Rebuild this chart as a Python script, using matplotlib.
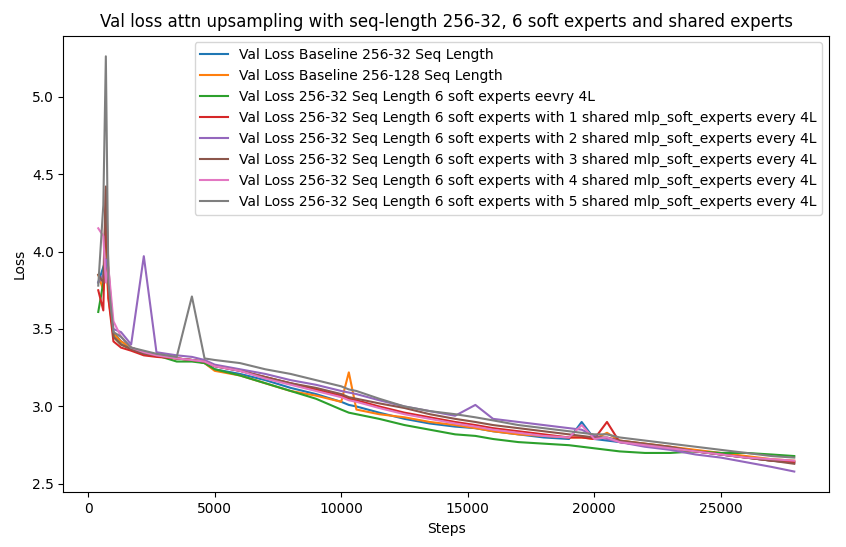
import matplotlib
matplotlib.use("Agg")
import matplotlib.pyplot as plt

steps = [400,600,700,800,1000,1300,1700,2200,2700,3500,4100,4600,5000,6000,7000,8000,9000,10000,10300,10600,11500,12500,13500,14500,15300,16000,17000,18000,19000,19500,20000,20500,21000,22000,23000,24000,25000,26000,27000,27900]

blue = [3.80,3.90,3.95,3.75,3.48,3.42,3.38,3.35,3.33,3.31,3.30,3.28,3.24,3.21,3.17,3.12,3.08,3.03,3.01,3.00,2.96,2.92,2.89,2.87,2.86,2.84,2.82,2.80,2.79,2.90,2.79,2.78,2.77,2.75,2.73,2.71,2.69,2.67,2.65,2.64]
orange = [3.85,3.75,3.95,3.70,3.47,3.42,3.38,3.35,3.33,3.31,3.30,3.28,3.23,3.20,3.15,3.10,3.07,3.03,3.22,2.98,2.95,2.93,2.90,2.88,2.86,2.84,2.82,2.81,2.80,2.80,2.79,2.83,2.78,2.76,2.74,2.72,2.70,2.68,2.66,2.65]
green = [3.61,3.80,4.20,3.80,3.45,3.40,3.37,3.34,3.33,3.29,3.29,3.28,3.24,3.20,3.15,3.10,3.05,2.98,2.96,2.95,2.92,2.88,2.85,2.82,2.81,2.79,2.77,2.76,2.75,2.74,2.73,2.72,2.71,2.70,2.70,2.71,2.70,2.70,2.69,2.68]
red = [3.75,3.62,4.40,3.70,3.42,3.38,3.36,3.33,3.32,3.31,3.30,3.29,3.26,3.23,3.19,3.15,3.11,3.07,3.05,3.04,3.00,2.96,2.93,2.90,2.88,2.86,2.84,2.82,2.80,2.80,2.79,2.90,2.77,2.75,2.73,2.71,2.69,2.67,2.65,2.64]
purple = [3.80,3.85,3.95,3.85,3.50,3.48,3.40,3.97,3.35,3.33,3.32,3.30,3.27,3.24,3.21,3.17,3.14,3.10,3.09,3.08,3.04,3.00,2.97,2.94,3.01,2.92,2.90,2.88,2.86,2.85,2.81,2.79,2.77,2.74,2.72,2.69,2.67,2.64,2.61,2.58]
brown = [3.85,3.80,4.42,3.90,3.45,3.40,3.37,3.34,3.33,3.31,3.30,3.29,3.26,3.23,3.19,3.15,3.12,3.08,3.06,3.05,3.02,2.99,2.95,2.92,2.90,2.88,2.86,2.84,2.82,2.81,2.80,2.80,2.78,2.76,2.74,2.71,2.69,2.67,2.65,2.63]
pink = [4.15,4.10,3.80,3.90,3.55,3.45,3.38,3.35,3.33,3.31,3.30,3.29,3.26,3.23,3.18,3.14,3.10,3.06,3.04,3.03,2.99,2.95,2.92,2.89,2.87,2.85,2.83,2.81,2.80,2.88,2.79,2.80,2.77,2.75,2.73,2.71,2.69,2.67,2.66,2.65]
gray = [3.78,4.30,5.26,3.80,3.48,3.45,3.38,3.36,3.34,3.32,3.71,3.31,3.30,3.28,3.24,3.21,3.17,3.13,3.11,3.10,3.05,3.00,2.97,2.95,2.93,2.91,2.88,2.86,2.84,2.83,2.82,2.82,2.80,2.78,2.76,2.74,2.72,2.70,2.68,2.67]

labels = [
    "Val Loss Baseline 256-32 Seq Length",
    "Val Loss Baseline 256-128 Seq Length",
    "Val Loss 256-32 Seq Length 6 soft experts eevry 4L",
    "Val Loss 256-32 Seq Length 6 soft experts with 1 shared mlp_soft_experts every 4L",
    "Val Loss 256-32 Seq Length 6 soft experts with 2 shared mlp_soft_experts every 4L",
    "Val Loss 256-32 Seq Length 6 soft experts with 3 shared mlp_soft_experts every 4L",
    "Val Loss 256-32 Seq Length 6 soft experts with 4 shared mlp_soft_experts every 4L",
    "Val Loss 256-32 Seq Length 6 soft experts with 5 shared mlp_soft_experts every 4L",
]
series = [blue, orange, green, red, purple, brown, pink, gray]

fig, ax = plt.subplots(figsize=(8.46, 5.47), dpi=100)
for s, l in zip(series, labels):
    ax.plot(steps, s, label=l)
ax.set_title("Val loss attn upsampling with seq-length 256-32, 6 soft experts and shared experts")
ax.set_xlabel("Steps")
ax.set_ylabel("Loss")
ax.legend(loc="upper right")
fig.subplots_adjust(left=0.075, right=0.98, top=0.935, bottom=0.1)
fig.savefig("out.png")
